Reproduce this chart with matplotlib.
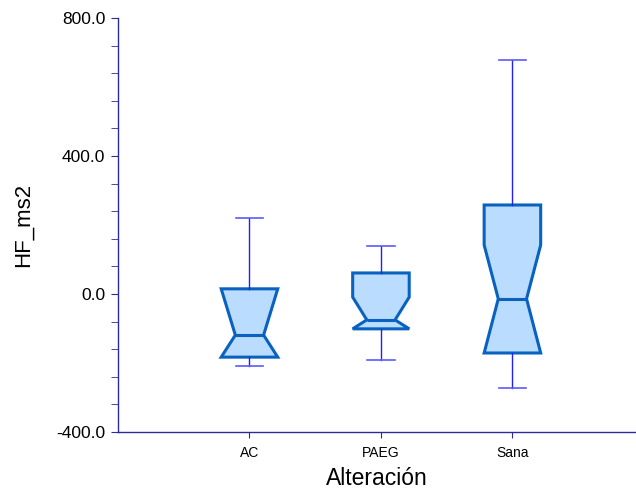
import matplotlib
matplotlib.use('Agg')
import matplotlib.pyplot as plt
from matplotlib.ticker import MultipleLocator, FormatStrFormatter

plt.rcParams['font.family'] = ['Liberation Sans', 'DejaVu Sans']

# groups and the box statistics
groups = ['AC', 'PAEG', 'Sana']
whisker_hi = [220, 139, 678]
q3 = [15, 61, 258]
notch_hi = [15, -9, 142]
median = [-119, -75, -14]
notch_lo = [-183, -101, -171]
q1 = [-183, -101, -171]
whisker_lo = [-209, -191, -273]

stats = []
for i in range(len(groups)):
    stats.append({
        'label': groups[i], 'med': median[i], 'q1': q1[i], 'q3': q3[i],
        'whislo': whisker_lo[i], 'whishi': whisker_hi[i],
        'cilo': notch_lo[i], 'cihi': notch_hi[i], 'fliers': [],
    })

fig = plt.figure(figsize=(6.36, 4.91), dpi=100)
ax = fig.add_axes([118 / 636, 59 / 491, 518 / 636, 414 / 491])

ax.bxp(stats, positions=[1, 2, 3], widths=0.43, capwidths=0.21,
       shownotches=True, showfliers=False, patch_artist=True,
       boxprops=dict(facecolor='#b9dcff', edgecolor='#0a62c0', linewidth=2.2),
       medianprops=dict(color='#0a62c0', linewidth=2.2),
       whiskerprops=dict(color='#1f1fff', linewidth=1.0),
       capprops=dict(color='#5a5aff', linewidth=1.2))

ax.set_xlim(0, 3.94)
ax.set_ylim(-400, 800)
ax.yaxis.set_major_locator(MultipleLocator(400))
ax.yaxis.set_minor_locator(MultipleLocator(80))
ax.yaxis.set_major_formatter(FormatStrFormatter('%.1f'))

for s in ['top', 'right']:
    ax.spines[s].set_visible(False)
for s in ['left', 'bottom']:
    ax.spines[s].set_color('#2b2b9b')
    ax.spines[s].set_linewidth(1.0)

ax.tick_params(axis='y', which='both', direction='out', color='#2b2b9b',
               labelsize=12.5, pad=4, length=5)
ax.tick_params(axis='x', direction='out', color='#2b2b9b', length=4,
               labelsize=10, pad=6)

ax.set_ylabel('HF_ms2', fontsize=16, labelpad=16)
ax.set_xlabel('Alteración', fontsize=16.5, labelpad=5)

fig.savefig('out.png', dpi=100)
